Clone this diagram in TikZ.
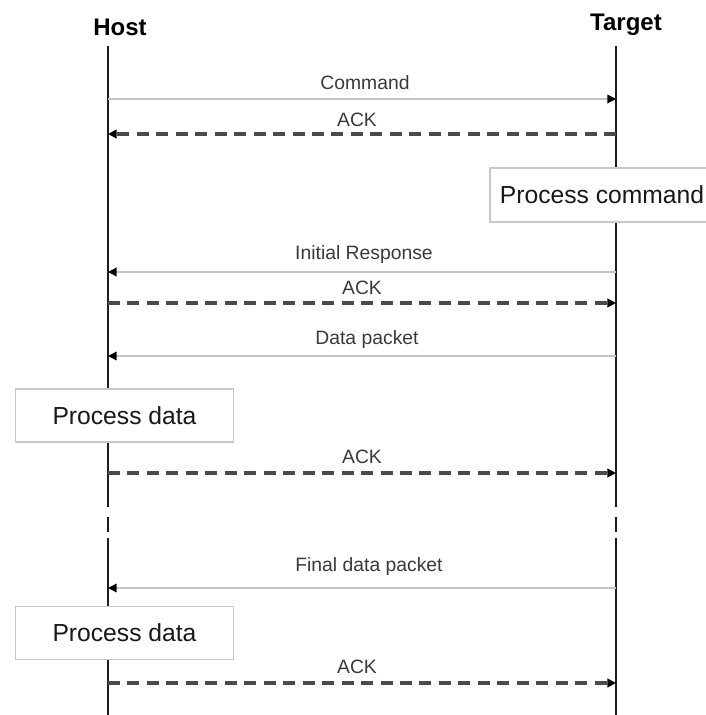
\documentclass[tikz,border=0pt]{standalone}
\usepackage{fontspec}
\setmainfont{Liberation Sans}
\usetikzlibrary{arrows.meta}
\definecolor{lifec}{HTML}{1E1E1E}
\definecolor{solidc}{HTML}{C4C4C4}
\definecolor{dashc}{HTML}{4A4A4A}
\definecolor{labelc}{HTML}{3A3A3A}
\definecolor{boxc}{HTML}{C8C8C8}
\tikzset{
  lifeline/.style={draw=lifec, line width=1.9pt},
  reqmsg/.style={draw=solidc, line width=1.1pt, -{Triangle[length=6.5pt,width=6.5pt,color=black]}},
  ackmsg/.style={draw=dashc, line width=2.3pt, dash pattern=on 9pt off 5.6pt, -{Triangle[length=6.5pt,width=6.5pt,color=black]}},
  msglabel/.style={text=labelc, font=\fontsize{14.5pt}{16pt}\selectfont, anchor=base, inner sep=0pt},
  actor/.style={font=\fontsize{18pt}{21pt}\selectfont\bfseries, anchor=base, inner sep=0pt},
  procbox/.style={draw=boxc, line width=0.9pt, fill=white, inner sep=0pt, font=\fontsize{18.5pt}{21pt}\selectfont, text=black!90}
}
\begin{document}
\begin{tikzpicture}[x=0.75pt,y=-0.75pt]
\useasboundingbox (0,0) rectangle (706,715);
\clip (0,0) rectangle (706,715);
\fill[white] (0,0) rectangle (706,715);
% actors
\node[actor] (host) at (120,35) {Host};
\node[actor] (target) at (626,30) {Target};
% lifeline points
\coordinate (htop) at (108,46);
\coordinate (hb1) at (108,507);
\coordinate (hd1) at (108,517);
\coordinate (hd2) at (108,532);
\coordinate (hb2) at (108,538);
\coordinate (hbot) at (108,715);
\coordinate (ttop) at (616,46);
\coordinate (tb1) at (616,507);
\coordinate (td1) at (616,517);
\coordinate (td2) at (616,532);
\coordinate (tb2) at (616,538);
\coordinate (tbot) at (616,715);
\draw[lifeline] (htop) -- (hb1);
\draw[lifeline] (hd1) -- (hd2);
\draw[lifeline] (hb2) -- (hbot);
\draw[lifeline] (ttop) -- (tb1);
\draw[lifeline] (td1) -- (td2);
\draw[lifeline] (tb2) -- (tbot);
% message end points
\coordinate (h1) at (108,99);  \coordinate (t1) at (616,99);
\coordinate (h2) at (108,134); \coordinate (t2) at (616,134);
\coordinate (h3) at (108,272); \coordinate (t3) at (616,272);
\coordinate (h4) at (108,303); \coordinate (t4) at (616,303);
\coordinate (h5) at (108,356); \coordinate (t5) at (616,356);
\coordinate (h6) at (108,473); \coordinate (t6) at (616,473);
\coordinate (h7) at (108,588); \coordinate (t7) at (616,588);
\coordinate (h8) at (108,683); \coordinate (t8) at (616,683);
% messages
\draw[reqmsg] (h1) -- (t1);
\node[msglabel] (l1) at (365,89) {Command};
\draw[ackmsg] (t2) -- (h2);
\node[msglabel] (l2) at (357,126) {ACK};
\node[procbox, minimum width=168pt, minimum height=40.5pt] (pc) at (602,195) {Process command};
\draw[reqmsg] (t3) -- (h3);
\node[msglabel] (l3) at (364,259) {Initial Response};
\draw[ackmsg] (h4) -- (t4);
\node[msglabel] (l4) at (362,294) {ACK};
\draw[reqmsg] (t5) -- (h5);
\node[msglabel] (l5) at (367,344) {Data packet};
\node[procbox, minimum width=164pt, minimum height=39.75pt] (pd1) at (124.5,415.5) {Process data};
\draw[ackmsg] (h6) -- (t6);
\node[msglabel] (l6) at (362,463) {ACK};
\draw[reqmsg] (t7) -- (h7);
\node[msglabel] (l7) at (369,571) {Final data packet};
\node[procbox, minimum width=164pt, minimum height=39.75pt] (pd2) at (124.5,633) {Process data};
\draw[ackmsg] (h8) -- (t8);
\node[msglabel] (l8) at (357,673) {ACK};
\end{tikzpicture}
\end{document}
